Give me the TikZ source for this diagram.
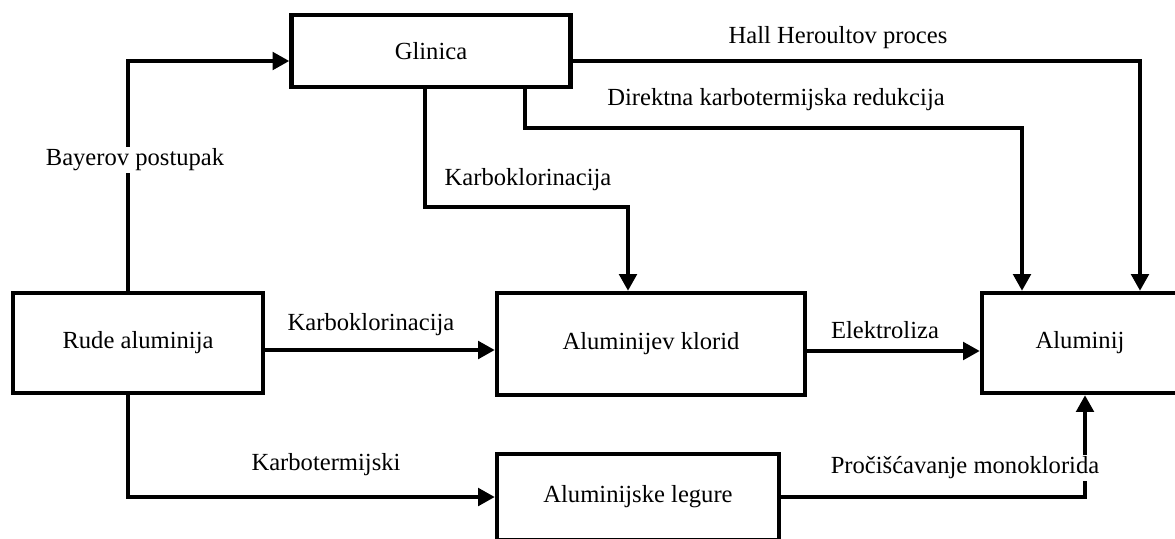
\documentclass[tikz,border=0pt]{standalone}
\usepackage{fontspec}
\setmainfont{Liberation Serif}
\usetikzlibrary{arrows.meta}

\begin{document}
\begin{tikzpicture}[x=0.02cm,y=-0.02cm,
    box/.style={draw,line width=2.6pt,fill=white,font=\fontsize{14}{16}\selectfont},
    arr/.style={line width=2pt,-{Triangle[length=9.5pt,width=10pt]}},
    lbl/.style={font=\fontsize{14}{16}\selectfont,fill=white,inner sep=1pt}]
    \useasboundingbox (0,0) rectangle (1175,538);
    \node[box,minimum width=5.58cm,minimum height=1.44cm] (glinica) at (431,51) {Glinica};
    \node[box,minimum width=5cm,minimum height=2cm] (rude) at (138,343) {Rude aluminija};
    \node[box,minimum width=6.16cm,minimum height=2.04cm] (klorid) at (651,344) {Aluminijev klorid};
    \node[box,minimum width=3.92cm,minimum height=2cm] (aluminij) at (1080,343) {Aluminij};
    \node[box,minimum width=5.64cm,minimum height=1.72cm] (legure) at (638,497) {Aluminijske legure};
    \coordinate (dk) at (1022,128);
    \coordinate (kk) at (628,207);
    \draw[arr] ([xshift=-0.2cm]rude.north) |- ([yshift=-0.2cm]glinica.west);
    \draw[arr] ([yshift=-0.2cm]glinica.east) -| ([xshift=1.2cm]aluminij.north);
    \draw[arr] ([xshift=1.88cm]glinica.south) |- (dk) -- (dk |- aluminij.north);
    \draw[arr] ([xshift=-0.12cm]glinica.south) |- (kk) -- (kk |- klorid.north);
    \draw[arr] ([yshift=-0.14cm]rude.east) -- ([yshift=-0.14cm]rude.east -| klorid.west);
    \draw[arr] ([yshift=-0.14cm]klorid.east) -- ([yshift=-0.14cm]klorid.east -| aluminij.west);
    \draw[arr] ([xshift=-0.2cm]rude.south) |- (legure.west);
    \draw[arr] (legure.east) -| ([xshift=0.1cm]aluminij.south);
    \node[lbl] (bayer) at (135,160) {Bayerov postupak};
    \node[lbl] (hall) at (838,38) {Hall Heroultov proces};
    \node[lbl] (direktna) at (776,100) {Direktna karbotermijska redukcija};
    \node[lbl] (karbo1) at (528,180) {Karboklorinacija};
    \node[lbl] (karbo2) at (371,325) {Karboklorinacija};
    \node[lbl] (elektro) at (885,330) {Elektroliza};
    \node[lbl] (karboterm) at (326,465) {Karbotermijski};
    \node[lbl] (prociscavanje) at (965,468) {Pročišćavanje monoklorida};
\end{tikzpicture}
\end{document}
